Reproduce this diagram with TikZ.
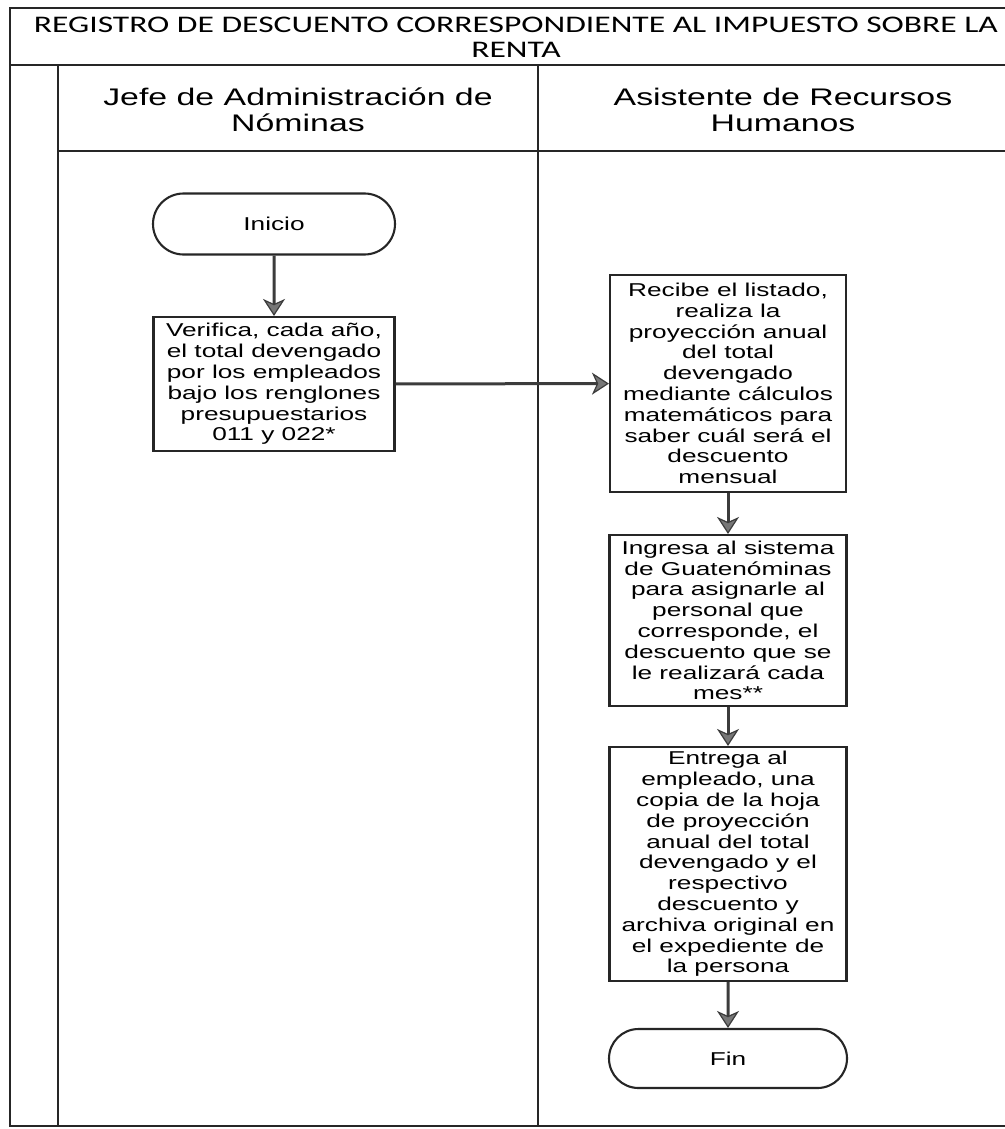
\documentclass[tikz,border=0pt]{standalone}
\usepackage{fontspec}
\setmainfont{Liberation Sans}[FakeStretch=1.41]
\newfontfamily\titlefont{Carlito}[FakeStretch=1.41]
\usetikzlibrary{arrows.meta,shapes.misc}
\definecolor{ink}{HTML}{262626}
\definecolor{arrowgray}{HTML}{3C3C3C}
\definecolor{headfill}{HTML}{777777}
\tikzset{
  frameline/.style={draw=ink, line width=2.6pt},
  procbox/.style={draw=ink, line width=2.1pt, align=center, inner sep=0pt,
    font=\fontsize{18.6}{20.8}\selectfont},
  termbox/.style={draw=ink, line width=2.1pt, rounded rectangle, align=center, inner sep=0pt,
    font=\fontsize{18.6}{20.8}\selectfont},
  lanehead/.style={align=center, inner sep=0pt, font=\fontsize{24}{25.5}\selectfont},
  titletext/.style={align=center, inner sep=0pt, font=\titlefont\fontsize{23.8}{25}\selectfont},
  flow/.style={draw=arrowgray, line width=3pt,
    -{Stealth[length=17pt,width=22pt,inset=5pt,fill=headfill,line width=1.2pt]}},
}
\begin{document}
\begin{tikzpicture}[x=1pt,y=-1pt]
\useasboundingbox (0,0) rectangle (1004,1129);
\fill[white] (0,0) rectangle (1004,1129);
% frame
\draw[frameline] (1010,8) -- (10,8) -- (10,1126) -- (1010,1126);
\draw[frameline] (10,65) -- (1010,65);
\draw[frameline] (58,65) -- (58,1126);
\draw[frameline] (58,151) -- (1010,151);
\draw[frameline] (538,65) -- (538,1126);
% titles
\node[titletext] (title) at (516,37) {REGISTRO DE DESCUENTO CORRESPONDIENTE AL IMPUESTO SOBRE LA\\RENTA};
\node[lanehead] (laneA) at (298,110) {Jefe de Administración de\\Nóminas};
\node[lanehead] (laneB) at (783,110) {Asistente de Recursos\\Humanos};
% nodes
\node[termbox, minimum width=242pt, minimum height=61pt] (inicio) at (274,224) {Inicio};
\node[procbox, minimum width=241pt, minimum height=134pt] (verif) at (274,384)
  {Verifica, cada año,\\el total devengado\\por los empleados\\bajo los renglones\\presupuestarios\\011 y 022*};
\node[procbox, minimum width=236pt, minimum height=217pt] (recibe) at (728,383.5)
  {Recibe el listado,\\realiza la\\proyección anual\\del total\\devengado\\mediante cálculos\\matemáticos para\\saber cuál será el\\descuento\\mensual};
\node[procbox, minimum width=237pt, minimum height=171pt] (ingresa) at (728,620.5)
  {Ingresa al sistema\\de Guatenóminas\\para asignarle al\\personal que\\corresponde, el\\descuento que se\\le realizará cada\\mes**};
\node[procbox, minimum width=237pt, minimum height=234pt] (entrega) at (728,864)
  {Entrega al\\empleado, una\\copia de la hoja\\de proyección\\anual del total\\devengado y el\\respectivo\\descuento y\\archiva original en\\el expediente de\\la persona};
\node[termbox, minimum width=238pt, minimum height=59pt] (fin) at (728,1058.5) {Fin};
% connectors
\draw[flow] (inicio) -- (verif);
\draw[flow] (verif) -- (recibe);
\draw[flow] (recibe) -- (ingresa);
\draw[flow] (ingresa) -- (entrega);
\draw[flow] (entrega) -- (fin);
\end{tikzpicture}
\end{document}
